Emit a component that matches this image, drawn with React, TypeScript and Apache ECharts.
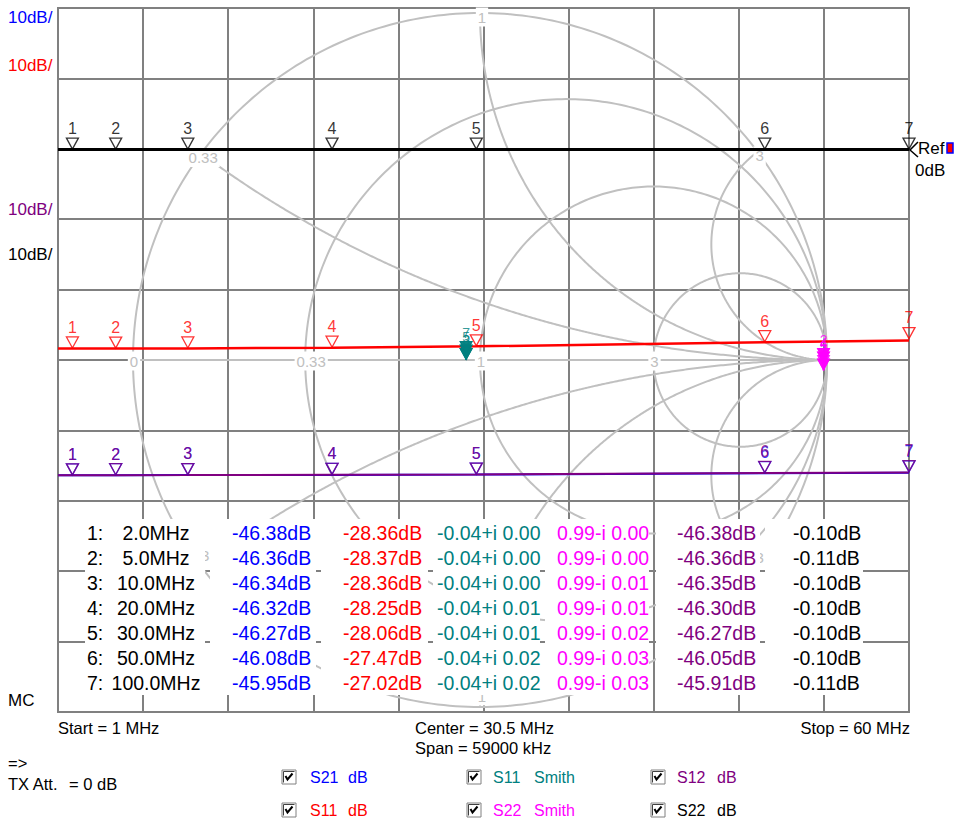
import React, { useEffect, useRef } from "react";
import * as echarts from "echarts";

// ---------------- data ----------------
const sweepStartMHz = 1;
const sweepStopMHz = 60;
const sweepCenterMHz = 30.5;
const sweepSpanKHz = 59000;

const markerNumbers = [1, 2, 3, 4, 5, 6, 7];
const markerFreqMHz = [2, 5, 10, 20, 30, 50, 100];
const markerFreqLabels = ["2.0MHz", "5.0MHz", "10.0MHz", "20.0MHz", "30.0MHz", "50.0MHz", "100.0MHz"];

const s21Markers = [-46.38, -46.36, -46.34, -46.32, -46.27, -46.08, -45.95];
const s11Markers = [-28.36, -28.37, -28.36, -28.25, -28.06, -27.47, -27.02];
const s11SmithRe = [-0.04, -0.04, -0.04, -0.04, -0.04, -0.04, -0.04];
const s11SmithIm = [0.0, 0.0, 0.0, 0.01, 0.01, 0.02, 0.02];
const s22SmithRe = [0.99, 0.99, 0.99, 0.99, 0.99, 0.99, 0.99];
const s22SmithIm = [0.0, 0.0, -0.01, -0.01, -0.02, -0.03, -0.03];
const s12Markers = [-46.38, -46.36, -46.35, -46.3, -46.27, -46.05, -45.91];
const s22Markers = [-0.1, -0.11, -0.1, -0.1, -0.1, -0.1, -0.11];

const traceFreqMHz = [1, 2, 5, 10, 20, 30, 50, 60];
const s21Trace = [-46.38, -46.38, -46.36, -46.34, -46.32, -46.27, -46.08, -46.0];
const s11Trace = [-28.36, -28.36, -28.37, -28.36, -28.25, -28.06, -27.47, -27.22];
const s12Trace = [-46.38, -46.38, -46.36, -46.35, -46.3, -46.27, -46.05, -45.98];
const s22Trace = [-0.1, -0.1, -0.11, -0.1, -0.1, -0.1, -0.1, -0.1];

const dbAxisMin = -80;
const dbAxisMax = 20;
const dbAxisStep = 10;
const dbScaleLabels = ["10dB/", "10dB/", "10dB/", "10dB/"];
const refLabel = "Ref";
const refValueLabel = "0dB";

const smithResistances = [0, 0.33, 1, 3];
const smithReactances = [0.33, 1, 3];

const checkboxNames = ["S21", "S11", "S12", "S11", "S22", "S22"];
const checkboxKinds = ["dB", "Smith", "dB", "dB", "Smith", "dB"];

// ---------------- layout / style ----------------
const PL = 58, PT = 8, PW = 851, PH = 704;
const SCX = 480, SCY = 360, SR = 347;
const GRID = "#808080";
const SMITH = "#c0c0c0";
const BLUE = "#0000ff", RED = "#ff0000", TEAL = "#008080", MAGENTA = "#ff00ff", PURPLE = "#800080", BLACK = "#000000";
const FONT = '"Liberation Sans", Arial, sans-serif';

const gxMin = (PL - SCX) / SR;
const gxMax = (PL + PW - SCX) / SR;
const gyMax = (SCY - PT) / SR;
const gyMin = (SCY - (PT + PH)) / SR;

function buildOption() {
  const mx = markerFreqMHz.map((f) => Math.min(f, sweepStopMHz));
  const pairs = (xs: number[], ys: number[]) => xs.map((x, i) => [x, ys[i]]);

  // smith chart curves: [kind, value] kind 0 = resistance circle, 1 = reactance arc, 2 = real axis
  const curves: number[][] = [];
  smithResistances.forEach((r) => curves.push([0, r]));
  smithReactances.forEach((x) => { curves.push([1, x]); curves.push([1, -x]); });
  curves.push([2, 0]);

  // smith labels
  const smithLabels: { g: number[]; text: string; dx: number; dy: number }[] = [];
  smithResistances.forEach((r) => smithLabels.push({ g: [(r - 1) / (r + 1), 0], text: String(r), dx: r === 0.33 ? 6 : 1, dy: 1 }));
  smithReactances.forEach((x) => {
    const gr = (x * x - 1) / (x * x + 1);
    const gi = (2 * x) / (x * x + 1);
    smithLabels.push({ g: [gr, gi], text: String(x), dx: 2, dy: 4 });
    smithLabels.push({ g: [gr, -gi], text: String(x), dx: 2, dy: -11 });
  });

  const markerSymbol = "path://M0,0 L12,0 L6,11 Z";
  const dbMarkers = (name: string, vals: number[], color: string) => ({
    name,
    type: "scatter",
    xAxisIndex: 1,
    yAxisIndex: 0,
    data: pairs(mx, vals),
    symbol: markerSymbol,
    symbolSize: [12, 11],
    symbolOffset: [0, -6],
    itemStyle: { color: "rgba(255,255,255,0)", borderColor: color, borderWidth: 1.3 },
    label: {
      show: true,
      position: "top",
      distance: 1,
      color,
      fontSize: 16,
      fontFamily: FONT,
      formatter: (p: any) => String(markerNumbers[p.dataIndex]),
    },
    z: 5,
    silent: true,
  });
  const smithMarkers = (name: string, re: number[], im: number[], color: string) => ({
    name,
    type: "scatter",
    xAxisIndex: 2,
    yAxisIndex: 1,
    // only the last marker drawn at each identical point keeps a visible number
    data: re.map((r, i) => {
      let last = true;
      for (let j = i + 1; j < re.length; j++) if (re[j] === r && im[j] === im[i]) last = false;
      return { value: [r, im[i]], label: { show: last } };
    }),
    symbol: markerSymbol,
    symbolSize: [12, 11],
    symbolOffset: [0, -6],
    itemStyle: { color, borderColor: color, borderWidth: 1 },
    label: {
      show: true,
      position: "top",
      distance: 1,
      color,
      fontSize: 14,
      fontFamily: FONT,
      formatter: (p: any) => String(markerNumbers[p.dataIndex]),
    },
    z: 5,
    silent: true,
  });
  const dbTrace = (name: string, vals: number[], color: string, width: number) => ({
    name,
    type: "line",
    xAxisIndex: 1,
    yAxisIndex: 0,
    data: pairs(traceFreqMHz, vals),
    showSymbol: false,
    symbol: "none",
    lineStyle: { color, width },
    z: 4,
    silent: true,
  });

  const series: any[] = [
    {
      type: "custom",
      xAxisIndex: 2,
      yAxisIndex: 1,
      data: curves,
      silent: true,
      z: 1,
      renderItem: (params: any, api: any) => {
        const kind = api.value(0);
        const v = api.value(1);
        const pts: number[][] = [];
        const N = 360;
        if (kind === 0) {
          const c = v / (1 + v), rad = 1 / (1 + v);
          for (let k = 0; k <= N; k++) {
            const a = (2 * Math.PI * k) / N;
            pts.push(api.coord([c + rad * Math.cos(a), rad * Math.sin(a)]));
          }
        } else if (kind === 1) {
          for (let k = 0; k <= N; k++) {
            const th = (k / N) * (Math.PI / 2) * 0.99995;
            const r = Math.tan(th);
            const D = (r + 1) * (r + 1) + v * v;
            pts.push(api.coord([(r * r + v * v - 1) / D, (2 * v) / D]));
          }
        } else {
          pts.push(api.coord([-1, 0]));
          pts.push(api.coord([1, 0]));
        }
        return {
          type: "polyline",
          shape: { points: pts },
          style: { stroke: SMITH, lineWidth: 2, fill: "none" },
        };
      },
    },
    {
      type: "custom",
      xAxisIndex: 2,
      yAxisIndex: 1,
      data: smithLabels.map((l) => l.g),
      silent: true,
      z: 2,
      renderItem: (params: any, api: any) => {
        const l = smithLabels[params.dataIndex];
        const p = api.coord(l.g);
        return {
          type: "text",
          x: p[0] + l.dx,
          y: p[1] + l.dy,
          style: {
            text: l.text,
            fill: SMITH,
            font: `15px ${FONT}`,
            align: "center",
            verticalAlign: "middle",
            backgroundColor: "#ffffff",
            padding: [2, 2],
          },
        };
      },
    },
    dbTrace("S21 dB", s21Trace, BLUE, 2),
    dbTrace("S12 dB", s12Trace, PURPLE, 2),
    dbTrace("S11 dB", s11Trace, RED, 2.5),
    dbTrace("S22 dB", s22Trace, BLACK, 3),
    {
      name: "S11 Smith",
      type: "line",
      xAxisIndex: 2,
      yAxisIndex: 1,
      data: pairs(s11SmithRe, s11SmithIm),
      symbol: "none",
      lineStyle: { color: TEAL, width: 2 },
      z: 4,
      silent: true,
    },
    {
      name: "S22 Smith",
      type: "line",
      xAxisIndex: 2,
      yAxisIndex: 1,
      data: pairs(s22SmithRe, s22SmithIm),
      symbol: "none",
      lineStyle: { color: MAGENTA, width: 2 },
      z: 4,
      silent: true,
    },
    dbMarkers("S21 mk", s21Markers, BLUE),
    dbMarkers("S12 mk", s12Markers, PURPLE),
    dbMarkers("S11 mk", s11Markers, RED),
    dbMarkers("S22 mk", s22Markers, BLACK),
    smithMarkers("S11 Smith mk", s11SmithRe, s11SmithIm, TEAL),
    smithMarkers("S22 Smith mk", s22SmithRe, s22SmithIm, MAGENTA),
  ];

  // ---------------- graphics ----------------
  const g: any[] = [];
  const txt = (text: string, x: number, y: number, fill: string, size: number, align = "left", z = 30, family = FONT) => ({
    type: "text",
    x,
    y,
    z,
    silent: true,
    style: { text, fill, font: `${size}px ${family}`, align, verticalAlign: "middle" },
  });

  // plot border
  g.push({ type: "rect", z: 0, silent: true, shape: { x: PL, y: PT, width: PW, height: PH }, style: { fill: "none", stroke: GRID, lineWidth: 2 } });

  // dB/div labels
  const scaleColors = [BLUE, RED, PURPLE, BLACK];
  const scaleY = [17, 65, 209, 254];
  dbScaleLabels.forEach((t, i) => g.push(txt(t, 8, scaleY[i], scaleColors[i], 17)));

  // reference marker
  g.push({ type: "polyline", z: 30, silent: true, shape: { points: [[918, 142], [910, 150], [918, 157]] }, style: { stroke: BLACK, lineWidth: 1.5, fill: "none" } });
  g.push(txt(refLabel, 918, 148, BLACK, 17));
  g.push(txt(refValueLabel, 915, 170, BLACK, 17));
  g.push({ type: "rect", z: 30, silent: true, shape: { x: 947, y: 143, width: 6, height: 10 }, style: { fill: RED, stroke: BLUE, lineWidth: 1.5 } });

  // marker table
  const colRects = [[85, 205], [210, 316], [321, 428], [433, 540], [545, 649], [656, 760], [765, 863]];
  colRects.forEach(([a, b]) =>
    g.push({ type: "rect", z: 20, silent: true, shape: { x: a, y: 519, width: b - a, height: 176 }, style: { fill: "#ffffff" } })
  );
  const TF = 19.5;
  markerNumbers.forEach((n, i) => {
    const y = 533 + 25 * i;
    g.push(txt(`${n}:`, 87, y, BLACK, TF));
    g.push(txt(markerFreqLabels[i], 156, y, BLACK, TF, "center"));
    g.push(txt(`${s21Markers[i].toFixed(2)}dB`, 232, y, BLUE, TF));
    g.push(txt(`${s11Markers[i].toFixed(2)}dB`, 343, y, RED, TF));
    g.push(txt(`${s11SmithRe[i].toFixed(2)}${s11SmithIm[i] < 0 ? "-" : "+"}i ${Math.abs(s11SmithIm[i]).toFixed(2)}`, 437, y, TEAL, TF));
    g.push(txt(`${s22SmithRe[i].toFixed(2)}${s22SmithIm[i] <= 0 ? "-" : "+"}i ${Math.abs(s22SmithIm[i]).toFixed(2)}`, 557, y, MAGENTA, TF));
    g.push(txt(`${s12Markers[i].toFixed(2)}dB`, 677, y, PURPLE, TF));
    g.push(txt(`${s22Markers[i].toFixed(2)}dB`, 793, y, BLACK, TF));
  });

  // bottom texts
  const BF = 16.5;
  g.push(txt("MC", 8, 700, BLACK, 17));
  g.push(txt(`Start = ${sweepStartMHz} MHz`, 58, 728, BLACK, BF));
  g.push(txt(`Center = ${sweepCenterMHz} MHz`, 415, 728, BLACK, BF));
  g.push(txt(`Span = ${sweepSpanKHz} kHz`, 415, 748, BLACK, BF));
  g.push(txt(`Stop = ${sweepStopMHz} MHz`, 910, 728, BLACK, BF, "right"));
  g.push(txt("=>", 8, 763, BLACK, BF));
  g.push(txt("TX Att.", 8, 784, BLACK, BF));
  g.push(txt("= 0 dB", 69, 784, BLACK, BF));

  // checkboxes
  const cbColors = [BLUE, TEAL, PURPLE, RED, MAGENTA, BLACK];
  const cbX = [282, 467, 651];
  const cbNameX = [310, 493, 677];
  const cbKindX = [348, 534, 717];
  const cbY = [777, 810];
  checkboxNames.forEach((nm, i) => {
    const col = i % 3, row = Math.floor(i / 3);
    const x = cbX[col], yc = cbY[row], y = yc - 7;
    g.push({ type: "rect", z: 30, silent: true, shape: { x, y, width: 14, height: 14 }, style: { fill: "#ffffff", stroke: GRID, lineWidth: 1 } });
    g.push({ type: "polyline", z: 31, silent: true, shape: { points: [[x + 1.5, y + 12.5], [x + 1.5, y + 1.5], [x + 12.5, y + 1.5]] }, style: { stroke: "#404040", lineWidth: 1, fill: "none" } });
    g.push({ type: "polyline", z: 31, silent: true, shape: { points: [[x + 3.5, y + 6], [x + 5.5, y + 9.5], [x + 10.5, y + 3.5]] }, style: { stroke: BLACK, lineWidth: 2, fill: "none" } });
    g.push(txt(nm, cbNameX[col], yc, cbColors[i], 16));
    g.push(txt(checkboxKinds[i], cbKindX[col], yc, cbColors[i], 16));
  });

  const splitLine = { show: true, lineStyle: { color: GRID, width: 2 } };
  return {
    animation: false,
    backgroundColor: "#ffffff",
    grid: [
      { left: PL, top: PT, width: PW, height: PH, show: false },
      { left: PL, top: PT, width: PW, height: PH, show: false },
    ],
    xAxis: [
      { gridIndex: 0, type: "value", min: 0, max: 10, interval: 1, axisLine: { show: false }, axisTick: { show: false }, axisLabel: { show: false }, splitLine },
      { gridIndex: 0, type: "value", min: sweepStartMHz, max: sweepStopMHz, show: false },
      { gridIndex: 1, type: "value", min: gxMin, max: gxMax, show: false },
    ],
    yAxis: [
      { gridIndex: 0, type: "value", min: dbAxisMin, max: dbAxisMax, interval: dbAxisStep, axisLine: { show: false }, axisTick: { show: false }, axisLabel: { show: false }, splitLine },
      { gridIndex: 1, type: "value", min: gyMin, max: gyMax, show: false },
    ],
    series,
    graphic: g,
  };
}

export default function App() {
  const ref = useRef<HTMLDivElement>(null);
  useEffect(() => {
    if (!ref.current) return;
    const chart = echarts.init(ref.current, undefined, { renderer: "svg" });
    chart.setOption(buildOption() as any);
    return () => chart.dispose();
  }, []);
  return (
    <div
      ref={ref}
      style={{ position: "fixed", left: 0, top: 0, width: 954, height: 822, background: "#fff" }}
    />
  );
}
